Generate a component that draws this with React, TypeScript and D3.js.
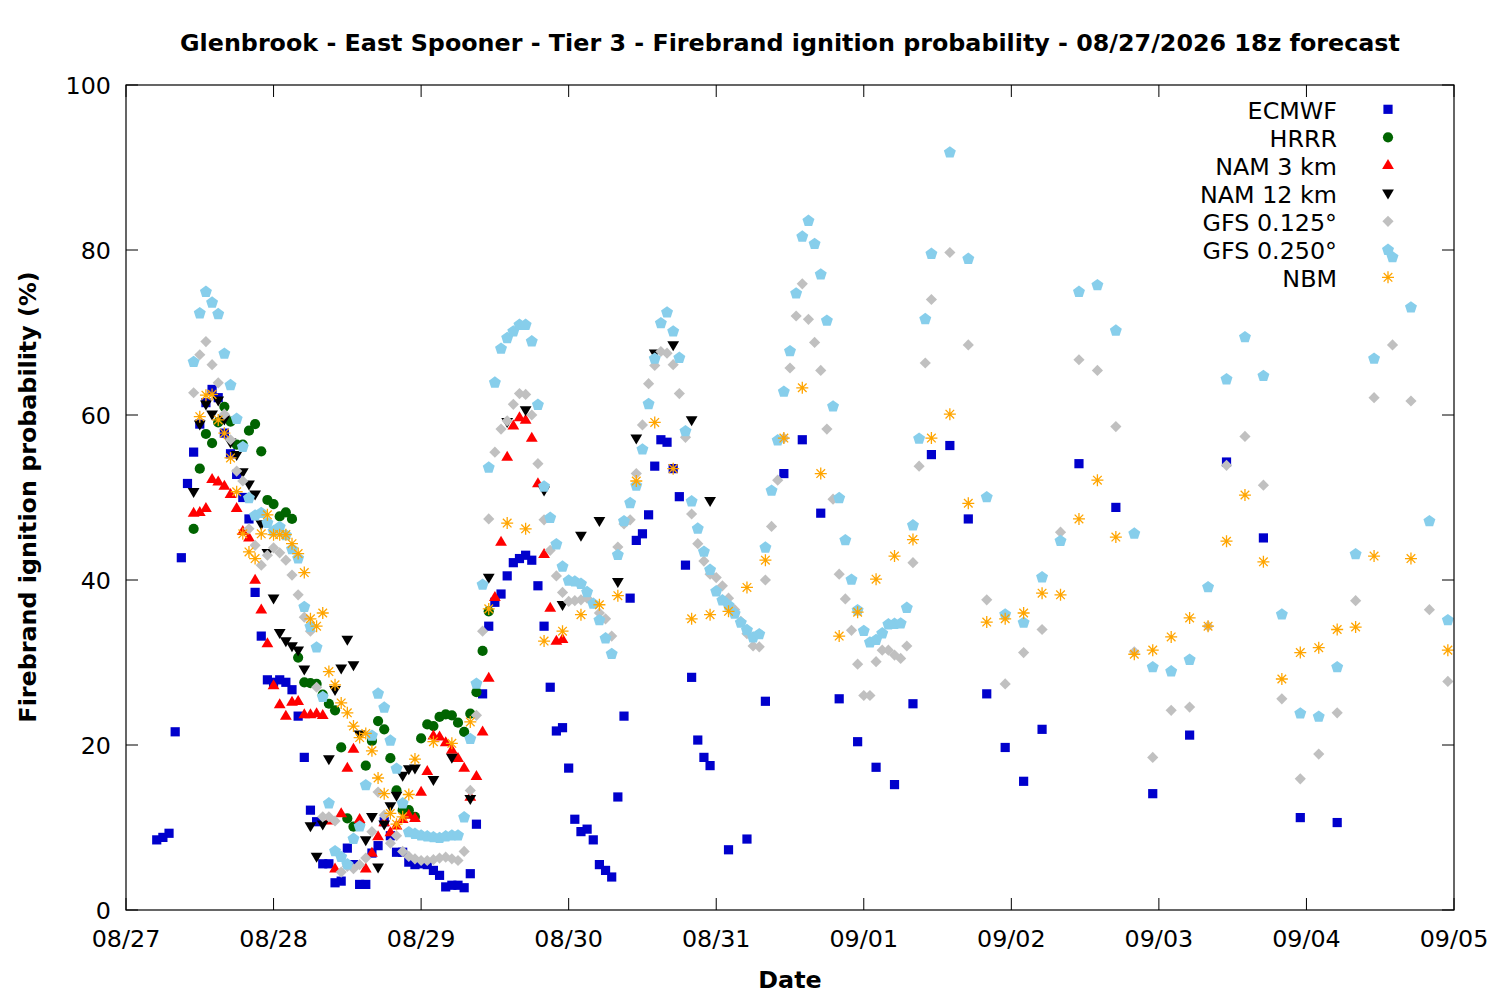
import React from 'react';
import * as d3 from 'd3';

// hours after 08/27 00z, probability in %
const ecmwf: [number, number][] = [
  [5, 8.5], [6, 8.8], [7, 9.3], [8, 21.6], [9, 42.7], [10, 51.7], [11, 55.5], [12, 58.9], [13, 61.5], [14, 63.1],
  [15, 62.1], [16, 57.8], [17, 55.3], [18, 52.8], [19, 50], [20, 47.4], [21, 38.5], [22, 33.2], [23, 27.9], [24, 27.6],
  [25, 27.9], [26, 27.6], [27, 26.7], [28, 23.5], [29, 18.5], [30, 12.1], [31, 10.7], [32, 5.6], [33, 5.6], [34, 3.3],
  [35, 3.5], [36, 7.5], [37, 5.5], [38, 3.1], [39, 3.1], [40, 6.9], [41, 7.8], [42, 10.7], [43, 9], [44, 7],
  [45, 7], [46, 5.8], [47, 5.5], [48, 5.6], [49, 5.5], [50, 4.8], [51, 4.2], [52, 2.8], [53, 3], [54, 3],
  [55, 2.7], [56, 4.4], [57, 10.4], [58, 26.2], [59, 34.4], [60, 37.3], [61, 38.3], [62, 40.5], [63, 42.1], [64, 42.6],
  [65, 43], [66, 42.4], [67, 39.3], [68, 34.4], [69, 27], [70, 21.7], [71, 22.1], [72, 17.2], [73, 11], [74, 9.5],
  [75, 9.8], [76, 8.5], [77, 5.5], [78, 4.8], [79, 4], [80, 13.7], [81, 23.5], [82, 37.8], [83, 44.8], [84, 45.6],
  [85, 47.9], [86, 53.8], [87, 57], [88, 56.7], [89, 53.5], [90, 50.1], [91, 41.8], [92, 28.2], [93, 20.6], [94, 18.5],
  [95, 17.5], [98, 7.3], [101, 8.6], [104, 25.3], [107, 52.9], [110, 57], [113, 48.1], [116, 25.6], [119, 20.4],
  [122, 17.3], [125, 15.2], [128, 25], [131, 55.2], [134, 56.3], [137, 47.4], [140, 26.2], [143, 19.7], [146, 15.6],
  [149, 21.9], [155, 54.1], [161, 48.8], [167, 14.1], [173, 21.2], [179, 54.3], [185, 45.1], [191, 11.2], [197, 10.6],
];

const hrrr: [number, number][] = [
  [11, 46.2], [12, 53.5], [13, 57.7], [14, 56.6], [15, 59.1], [16, 61], [17, 59.2], [18, 56.4], [19, 56.4], [20, 58.1],
  [21, 58.9], [22, 55.6], [23, 49.7], [24, 49.2], [25, 47.7], [26, 48.2], [27, 47.4], [28, 30.6], [29, 27.6], [30, 27.5],
  [31, 27.4], [32, 26.1], [33, 25], [34, 24.2], [35, 19.7], [36, 11.1], [37, 10.1], [38, 10.4], [39, 17.5], [40, 20.5],
  [41, 22.9], [42, 21.9], [43, 18.4], [44, 14.5], [45, 12.1], [46, 12.1], [47, 11.3], [48, 20.8], [49, 22.5], [50, 22.3],
  [51, 23.4], [52, 23.7], [53, 23.6], [54, 22.7], [55, 21.6], [56, 23.8], [57, 26.4], [58, 31.4], [59, 36.2],
];

const nam3: [number, number][] = [
  [11, 48.1], [12, 48.2], [13, 48.7], [14, 52.2], [15, 51.9], [16, 51.4], [17, 50.4], [18, 48.7], [19, 45.9], [20, 45.1],
  [21, 40], [22, 36.4], [23, 32.3], [24, 27.2], [25, 24.9], [26, 23.5], [27, 25.2], [28, 25.3], [29, 23.7], [30, 23.7],
  [31, 23.8], [32, 23.6], [33, 10.8], [34, 5], [35, 11.7], [36, 17.2], [37, 19.5], [38, 11], [39, 5], [40, 6.9],
  [41, 8.9], [42, 10.6], [43, 9.4], [44, 10.2], [45, 11], [46, 11.5], [47, 11.1], [48, 14.3], [49, 16.8], [50, 21.1],
  [51, 21], [52, 20.3], [53, 19.4], [54, 18.4], [55, 17.2], [56, 13.7], [57, 16.2], [58, 21.6], [59, 28.1], [60, 37.9],
  [61, 44.6], [62, 54.9], [63, 58.7], [64, 59.7], [65, 59.4], [66, 57.2], [67, 51.7], [68, 43.1], [69, 36.6], [70, 32.6],
  [71, 32.8],
];

const nam12: [number, number][] = [
  [11, 50.7], [12, 58.9], [13, 61.3], [14, 60.1], [15, 61.8], [16, 59.5], [17, 56.7], [18, 55.2], [19, 53.1], [20, 51.6],
  [21, 50.4], [22, 46.8], [23, 43.3], [24, 37.8], [25, 33.6], [26, 32.6], [27, 32], [28, 31.5], [29, 29.2], [30, 10.2],
  [31, 6.5], [32, 10.4], [33, 18.3], [34, 26.7], [35, 29.3], [36, 32.8], [37, 29.7], [38, 21.3], [39, 8.5], [40, 11.3],
  [41, 5.2], [42, 10.4], [43, 12.6], [44, 13.9], [45, 16.3], [46, 17.1], [47, 17.2], [50, 15.8], [53, 18.5], [56, 13.5],
  [59, 40.3], [62, 59.2], [65, 60.6], [68, 50.9], [71, 37], [74, 45.4], [77, 47.2], [80, 39.8], [83, 57.2], [86, 67.5],
  [89, 68.5], [92, 59.4], [95, 49.6],
];

const gfs0125: [number, number][] = [
  [11, 62.7], [12, 67.3], [13, 68.9], [14, 66.1], [15, 63.9], [16, 60.1], [17, 57], [18, 53.2], [19, 52], [20, 46.2],
  [21, 44.2], [22, 41.8], [23, 43], [24, 43.9], [25, 43.3], [26, 42.4], [27, 40.6], [28, 38.2], [29, 35.5], [30, 33.8],
  [31, 27], [32, 11.3], [33, 11.3], [34, 10.8], [35, 4.6], [36, 5.3], [37, 5], [38, 5.5], [39, 6.3], [40, 9.5],
  [41, 14.3], [42, 11.5], [43, 8.1], [44, 9], [45, 7.1], [46, 6.5], [47, 6.2], [48, 6], [49, 6], [50, 6.1],
  [51, 6.3], [52, 6.4], [53, 6.2], [54, 6], [55, 7.1], [56, 14.5], [57, 23.6], [58, 33.8], [59, 47.4], [60, 55.5],
  [61, 58.3], [62, 59.3], [63, 61.3], [64, 62.6], [65, 62.5], [66, 60], [67, 54.1], [68, 47.3], [69, 43.6], [70, 40.5],
  [71, 38.5], [72, 37.4], [73, 37.5], [74, 37.6], [75, 37.8], [76, 37.2], [77, 36], [78, 35.3], [79, 33.2], [80, 44],
  [81, 46.8], [82, 47.3], [83, 52.9], [84, 58.8], [85, 63.8], [86, 66], [87, 67.7], [88, 67.5], [89, 66.1], [90, 62.6],
  [91, 57.3], [92, 48], [93, 44.4], [94, 42.3], [95, 40.7], [96, 40.3], [97, 39.3], [98, 37.8], [99, 36.4], [100, 35],
  [101, 33.5], [102, 32], [103, 31.9], [104, 40], [105, 46.5], [106, 52.1], [107, 57.2], [108, 65.7], [109, 72], [110, 75.9],
  [111, 71.6], [112, 68.8], [113, 65.4], [114, 58.3], [115, 49.8], [116, 40.7], [117, 37.7], [118, 33.9], [119, 29.8], [120, 26],
  [121, 26], [122, 30.1], [123, 31.5], [124, 31.5], [125, 30.9], [126, 30.5], [127, 32], [128, 42.1], [129, 53.8], [130, 66.3],
  [131, 74], [134, 79.7], [137, 68.5], [140, 37.6], [143, 27.4], [146, 31.2], [149, 34], [152, 45.8], [155, 66.7], [158, 65.4],
  [161, 58.6], [164, 31.3], [167, 18.5], [170, 24.2], [173, 24.6], [176, 34.4], [179, 53.9], [182, 57.4], [185, 51.5], [188, 25.6],
  [191, 15.9], [194, 18.9], [197, 23.9], [200, 37.5], [203, 62.1], [206, 68.5], [209, 61.7], [212, 36.4], [215, 27.7],
];

const gfs0250: [number, number][] = [
  [11, 66.5], [12, 72.4], [13, 75], [14, 73.7], [15, 72.3], [16, 67.5], [17, 63.7], [18, 59.6], [19, 56.2], [20, 50],
  [21, 47.9], [22, 48.2], [23, 47], [24, 46], [25, 46.5], [26, 45.5], [27, 43.8], [28, 42.7], [29, 36.8], [30, 34.4],
  [31, 31.9], [32, 25.9], [33, 13], [34, 7.2], [35, 6.5], [36, 5.6], [37, 8.7], [38, 10.2], [39, 15.2], [40, 21.2],
  [41, 26.3], [42, 24.6], [43, 20.6], [44, 17.2], [45, 13], [46, 9.5], [47, 9.3], [48, 9.1], [49, 9], [50, 8.9],
  [51, 8.8], [52, 9], [53, 9.1], [54, 9.1], [55, 11.3], [56, 20.8], [57, 27.5], [58, 39.5], [59, 53.7], [60, 64],
  [61, 68.1], [62, 69.4], [63, 70.2], [64, 71], [65, 71], [66, 69], [67, 61.3], [68, 51.4], [69, 47.6], [70, 44.4],
  [71, 41.7], [72, 40], [73, 39.9], [74, 39.6], [75, 38.6], [76, 37.2], [77, 35.2], [78, 33], [79, 31.1], [80, 43.1],
  [81, 47.2], [82, 49.4], [83, 51.5], [84, 55.9], [85, 61.4], [86, 66.9], [87, 71.2], [88, 72.5], [89, 70.2], [90, 67],
  [91, 58.1], [92, 49.6], [93, 46.3], [94, 43.5], [95, 41.3], [96, 38.7], [97, 37.6], [98, 37], [99, 36], [100, 34.9],
  [101, 34], [102, 33.1], [103, 33.5], [104, 44], [105, 50.9], [106, 57], [107, 62.9], [108, 67.8], [109, 74.8], [110, 81.7],
  [111, 83.6], [112, 80.8], [113, 77.1], [114, 71.5], [115, 61.1], [116, 50], [117, 44.9], [118, 40.1], [119, 36.4], [120, 33.9],
  [121, 32.5], [122, 32.8], [123, 33.6], [124, 34.7], [125, 34.75], [126, 34.8], [127, 36.7], [128, 46.7], [129, 57.2], [130, 71.7],
  [131, 79.6], [134, 91.9], [137, 79], [140, 50.1], [143, 35.9], [146, 34.9], [149, 40.4], [152, 44.8], [155, 75], [158, 75.8],
  [161, 70.3], [164, 45.7], [167, 29.5], [170, 29], [173, 30.4], [176, 39.2], [179, 64.4], [182, 69.5], [185, 64.8], [188, 35.9],
  [191, 23.9], [194, 23.5], [197, 29.5], [200, 43.2], [203, 66.9], [206, 79.2], [209, 73.1], [212, 47.2], [215, 35.2],
];

const nbm: [number, number][] = [
  [12, 59.8], [13, 62.4], [14, 62.5], [15, 59.4], [16, 57.8], [17, 54.8], [18, 50.7], [19, 45.6], [20, 43.4], [21, 42.6],
  [22, 45.6], [23, 47.9], [24, 45.5], [25, 45.5], [26, 45.5], [27, 44.4], [28, 43.2], [29, 40.9], [30, 35.3], [31, 34.4],
  [32, 36], [33, 28.9], [34, 27.3], [35, 25.1], [36, 23.9], [37, 22.3], [38, 20.9], [39, 21.4], [40, 19.3], [41, 16],
  [42, 14.1], [43, 11.7], [44, 10.4], [45, 11.3], [46, 14], [47, 18.3], [50, 20.4], [53, 20.2], [56, 22.8], [59, 36.5],
  [62, 46.9], [65, 46.2], [68, 32.6], [71, 33.8], [74, 35.8], [77, 37], [80, 38.1], [83, 52], [86, 59.1], [89, 53.5],
  [92, 35.3], [95, 35.8], [98, 36.2], [101, 39.1], [104, 42.4], [107, 57.2], [110, 63.3], [113, 52.9], [116, 33.2], [119, 36.1],
  [122, 40.1], [125, 42.9], [128, 44.9], [131, 57.2], [134, 60.1], [137, 49.3], [140, 34.9], [143, 35.3], [146, 36], [149, 38.4],
  [152, 38.2], [155, 47.4], [158, 52.1], [161, 45.2], [164, 31], [167, 31.5], [170, 33.1], [173, 35.4], [176, 34.4], [179, 44.7],
  [182, 50.3], [185, 42.2], [188, 28], [191, 31.2], [194, 31.8], [197, 34], [200, 34.3], [203, 42.9], [209, 42.6], [215, 31.5],
];

const dateLabels = ['08/27', '08/28', '08/29', '08/30', '08/31', '09/01', '09/02', '09/03', '09/04', '09/05'];
const yTicks = [0, 20, 40, 60, 80, 100];

const W = 1500, H = 1000;
const left = 126, right = 1454, top = 85, bottom = 910;
const font = 'DejaVu Sans, Verdana, sans-serif';
const fs = 23.8;

const x = d3.scaleLinear().domain([0, 216]).range([left, right]);
const y = d3.scaleLinear().domain([0, 100]).range([bottom, top]);

// marker shapes, centred on 0,0
const pentagon = d3.range(5).map(k => {
  const a = -Math.PI / 2 + (k * 2 * Math.PI) / 5;
  return [6.3 * Math.cos(a), 6.3 * Math.sin(a) + 0.6];
});
const shapes: Record<string, string> = {
  square: 'M-4.6,-4.6h9.2v9.2h-9.2Z',
  circle: 'M-5.1,0a5.1,5.1 0 1,0 10.2,0a5.1,5.1 0 1,0 -10.2,0Z',
  up: 'M0,-6.3L5.9,3.7L-5.9,3.7Z',
  down: 'M0,6.3L5.9,-3.7L-5.9,-3.7Z',
  diamond: 'M0,-5.6L5.6,0L0,5.6L-5.6,0Z',
  pentagon: 'M' + pentagon.map(p => p.join(',')).join('L') + 'Z',
  star: 'M-6,0H6M0,-6V6M-4.3,-4.3L4.3,4.3M-4.3,4.3L4.3,-4.3',
};

const series = [
  { name: 'ECMWF', data: ecmwf, shape: 'square', color: '#0000cc' },
  { name: 'HRRR', data: hrrr, shape: 'circle', color: '#006400' },
  { name: 'NAM 3 km', data: nam3, shape: 'up', color: '#ff0000' },
  { name: 'NAM 12 km', data: nam12, shape: 'down', color: '#000000' },
  { name: 'GFS 0.125°', data: gfs0125, shape: 'diamond', color: '#c0c0c0' },
  { name: 'GFS 0.250°', data: gfs0250, shape: 'pentagon', color: '#87ceeb' },
  { name: 'NBM', data: nbm, shape: 'star', color: '#ffa500' },
];

const Marker = ({ shape, color, cx, cy }: { shape: string; color: string; cx: number; cy: number }) =>
  shape === 'star' ? (
    <path d={shapes.star} transform={`translate(${cx},${cy})`} stroke={color} strokeWidth={1.3} fill="none" />
  ) : (
    <path d={shapes[shape]} transform={`translate(${cx},${cy})`} fill={color} />
  );

export default function App() {
  const xTicks = dateLabels.map((_, i) => i * 24);
  return (
    <svg width={W} height={H} style={{ position: 'absolute', left: 0, top: 0, background: '#fff' }} fontFamily={font}>
      <rect x={0} y={0} width={W} height={H} fill="#fff" />

      {/* points, in gnuplot order so NBM sits on top */}
      {series.map(s => (
        <g key={s.name}>
          {s.data.map(([h, v], i) => (
            <Marker key={i} shape={s.shape} color={s.color} cx={x(h)} cy={y(v)} />
          ))}
        </g>
      ))}

      {/* frame and ticks */}
      <rect x={left} y={top} width={right - left} height={bottom - top} fill="none" stroke="#000" strokeWidth={1.2} />
      {xTicks.map((t, i) => (
        <g key={t}>
          <line x1={x(t)} x2={x(t)} y1={bottom} y2={bottom - 12} stroke="#000" />
          <line x1={x(t)} x2={x(t)} y1={top} y2={top + 12} stroke="#000" />
          <text x={x(t)} y={947} textAnchor="middle" fontSize={fs}>{dateLabels[i]}</text>
        </g>
      ))}
      {yTicks.map(t => (
        <g key={t}>
          <line x1={left} x2={left + 12} y1={y(t)} y2={y(t)} stroke="#000" />
          <line x1={right} x2={right - 12} y1={y(t)} y2={y(t)} stroke="#000" />
          <text x={111} y={y(t)} dy="0.36em" textAnchor="end" fontSize={fs}>{t}</text>
        </g>
      ))}

      {/* legend */}
      {series.map((s, i) => (
        <g key={s.name}>
          <text x={1337} y={109.3 + i * 28 + 9.5} textAnchor="end" fontSize={fs}>{s.name}</text>
          <Marker shape={s.shape} color={s.color} cx={1388} cy={109.3 + i * 28} />
        </g>
      ))}

      {/* titles */}
      <text x={790} y={51} textAnchor="middle" fontSize={fs} fontWeight="bold">
        Glenbrook - East Spooner - Tier 3 - Firebrand ignition probability - 08/27/2026 18z forecast
      </text>
      <text x={790} y={988} textAnchor="middle" fontSize={fs} fontWeight="bold">Date</text>
      <text transform="translate(36,497) rotate(-90)" textAnchor="middle" fontSize={fs} fontWeight="bold">
        Firebrand ignition probability (%)
      </text>
    </svg>
  );
}
